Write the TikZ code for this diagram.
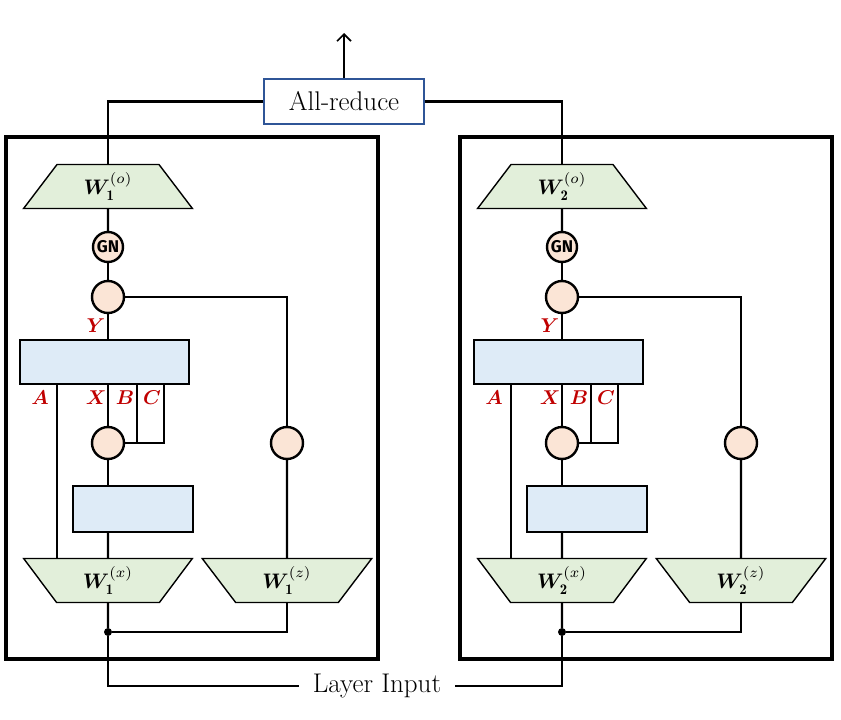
\documentclass[tikz,border=0pt]{standalone}
\usepackage{fontspec}
\usepackage{bm}
\usetikzlibrary{shapes.geometric,arrows.meta}
\newfontfamily\gnfont{Fira Sans}
\definecolor{projgreen}{HTML}{E2EFDA}
\definecolor{ssmblue}{HTML}{DEEBF7}
\definecolor{opcircle}{HTML}{FBE5D6}
\definecolor{labelred}{HTML}{C00000}
\definecolor{reduceblue}{HTML}{2F5597}
\newcommand{\wlab}[2]{\scalebox{2.1}{$\bm{W}_{\mathbf{#1}}^{(#2)}$}}
\newcommand{\vlab}[1]{\scalebox{2}{$\bm{#1}$}}
\tikzset{>={Straight Barb[length=7pt,width=14pt,line width=1.6pt]}}
\tikzset{
  wire/.style={line width=2.2pt},
  panel/.style={draw, line width=4pt},
  proj/.style={trapezium, trapezium stretches=true, draw, line width=1.4pt,
    fill=projgreen, minimum width=170pt, minimum height=44pt, inner sep=0pt},
  projup/.style={proj, trapezium left angle=60, trapezium right angle=60},
  projdown/.style={proj, trapezium left angle=120, trapezium right angle=120},
  block/.style={draw, line width=1.4pt, fill=ssmblue, inner sep=0pt},
  op/.style={circle, draw, line width=2.4pt, fill=opcircle, minimum size=32pt, inner sep=0pt},
  varlabel/.style={text=labelred},
  bigtext/.style={font=\fontsize{27}{32}\selectfont},
}

\begin{document}
\begin{tikzpicture}[x=1pt,y=-1pt]
  \useasboundingbox (0,0) rectangle (841,720);
  \node[bigtext, draw=reduceblue, line width=1.3pt, minimum width=160pt, minimum height=45pt] (ar) at (344,101.5) {All-reduce};
  \coordinate (out) at (344,33);
  \draw[wire,->] (ar) -- (out);
  \foreach \i/\dx in {1/0,2/454} {
    \begin{scope}[xshift=\dx pt]
      \draw[panel] (6,137) rectangle (378,659);
      % projections and operators
      \node[projup] (wo\i) at (108,186.5) {\wlab{\i}{o}};
      \node[op, minimum size=30pt, font=\gnfont\bfseries\fontsize{17}{20}\selectfont] (gn\i) at (108,247) {GN};
      \node[op] (m\i) at (108,297) {};
      \node[block, minimum width=169pt, minimum height=44pt] (ssm\i) at (104.5,362) {};
      \node[op] (mx\i) at (108,443) {};
      \node[op] (mz\i) at (287,443) {};
      \node[block, minimum width=120pt, minimum height=46pt] (conv\i) at (133,509) {};
      \node[projdown] (wx\i) at (108,580.5) {\wlab{\i}{x}};
      \node[projdown] (wz\i) at (287,580.5) {\wlab{\i}{z}};
      \node[circle, fill, inner sep=0pt, minimum size=8pt] (dot\i) at (108,632) {};
      \coordinate (pa\i) at (57,384);
      \coordinate (pb\i) at (137,384);
      \coordinate (pc\i) at (164,384);
      % labels
      \node[varlabel] (y\i) at (96,326) {\vlab{Y}};
      \node[varlabel] (la\i) at (40,398) {\vlab{A}};
      \node[varlabel] (lx\i) at (96,398) {\vlab{X}};
      \node[varlabel] (lb\i) at (125,398) {\vlab{B}};
      \node[varlabel] (lc\i) at (152,398) {\vlab{C}};
      % wires
      \draw[wire] (wo\i) -- (gn\i);
      \draw[wire] (gn\i) -- (m\i);
      \draw[wire] (m\i) -- (m\i |- ssm\i.north);
      \draw[wire] (m\i) -| (mz\i);
      \draw[wire] (m\i |- ssm\i.south) -- (mx\i);
      \draw[wire] (pc\i) |- (mx\i);
      \draw[wire] (pb\i) -- (pb\i |- mx\i);
      \draw[wire] (pa\i) -- (pa\i |- wx\i.north);
      \draw[wire] (mx\i) -- (mx\i |- conv\i.north);
      \draw[wire] (mx\i |- conv\i.south) -- (wx\i);
      \draw[wire] (wz\i) -- (mz\i);
      \draw[wire] (wx\i) -- (dot\i);
      \draw[wire] (dot\i) -| (wz\i);
    \end{scope}
  }
  \node[bigtext, inner xsep=14pt] (li) at (377,686) {Layer Input};
  \draw[wire] (ar.west) -| (wo1.north);
  \draw[wire] (ar.east) -| (wo2.north);
  \draw[wire] (dot1) |- (li.west);
  \draw[wire] (dot2) |- (li.east);
\end{tikzpicture}
\end{document}
